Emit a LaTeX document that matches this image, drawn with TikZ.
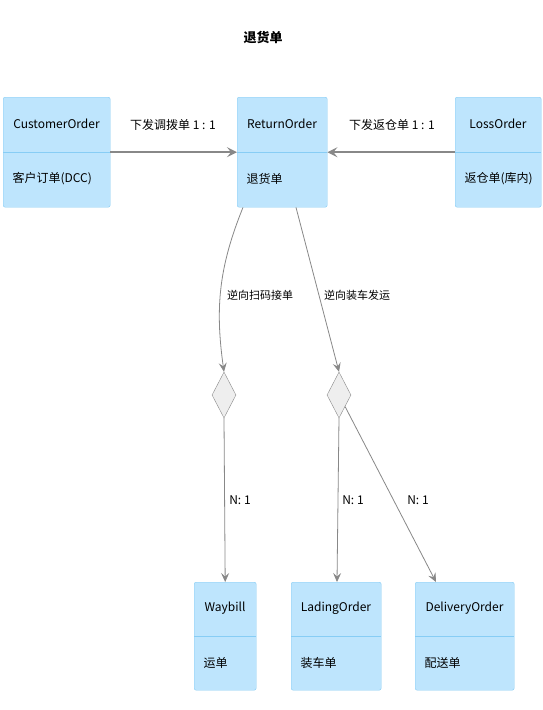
\documentclass[tikz,border=0pt]{standalone}
\usepackage{fontspec}
\setmainfont{Noto Sans CJK SC}
\usetikzlibrary{shapes.geometric,arrows.meta}
\definecolor{boxfill}{RGB}{190,229,253}
\definecolor{boxline}{RGB}{135,205,245}
\definecolor{linkgray}{RGB}{136,136,136}
\definecolor{gatefill}{RGB}{238,238,238}
\begin{document}
\begin{tikzpicture}[x=1pt,y=-1pt,
    cls/.style={draw=boxline,fill=boxfill,rounded corners=2pt,minimum height=110pt,inner sep=0,anchor=north west},
    gate/.style={diamond,draw=linkgray,fill=gatefill,minimum width=24pt,minimum height=46pt,inner sep=0},
    ttl/.style={font=\fontsize{12}{14}\selectfont},
    sub/.style={anchor=west,font=\fontsize{12}{14}\selectfont},
    lbl/.style={font=\fontsize{12}{14}\selectfont},
    biglink/.style={draw=linkgray,line width=1.6pt,-{Stealth[length=10pt,width=10pt,inset=4pt]}},
    link/.style={draw=linkgray,line width=0.8pt,-{Stealth[length=9pt,width=8pt,inset=3.5pt]}}]
        \useasboundingbox[fill=white] (0,0) rectangle (542,710);
        \node[font=\fontsize{13}{15}\selectfont\bfseries] (title) at (263,38) {退货单};
        % upper row
        \node[cls,minimum width=107pt] (cust) at (3,97) {};
        \draw[boxline] (cust.west) -- (cust.east);
        \node[ttl] (custT) at (56.5,124) {CustomerOrder};
        \node[sub] (custS) at (9,179) {客户订单(DCC)};
        \node[cls,minimum width=90pt] (ret) at (237,97) {};
        \draw[boxline] (ret.west) -- (ret.east);
        \node[ttl] (retT) at (282,124) {ReturnOrder};
        \node[sub] (retS) at (243,179) {退货单};
        \node[cls,minimum width=86pt] (loss) at (455,97) {};
        \draw[boxline] (loss.west) -- (loss.east);
        \node[ttl] (lossT) at (498,124) {LossOrder};
        \node[sub] (lossS) at (461,179) {返仓单(库内)};
        \draw[biglink] (cust.east) -- (ret.west);
        \node[lbl] (l1) at (173,125) {下发调拨单 1 : 1};
        \draw[biglink] (loss.west) -- (ret.east);
        \node[lbl] (l2) at (392,125) {下发返仓单 1 : 1};
        % gates
        \node[gate] (g1) at (224,395) {};
        \node[gate] (g2) at (339,395) {};
        \draw[link] ([xshift=6pt]ret.south west) to[out=-112,in=98] (g1.north);
        \node[lbl,font=\fontsize{11}{13}\selectfont] (l3) at (260,295) {逆向扫码接单};
        \draw[link] ([xshift=59pt]ret.south west) -- (g2.north);
        \node[lbl,font=\fontsize{11}{13}\selectfont] (l4) at (357,295) {逆向装车发运};
        % lower row
        \node[cls,minimum width=62pt,minimum height=108pt] (way) at (194,582) {};
        \draw[boxline] (way.west) -- (way.east);
        \node[ttl] (wayT) at (225,608) {Waybill};
        \node[sub] (wayS) at (200,663) {运单};
        \node[cls,minimum width=90pt,minimum height=108pt] (lad) at (291,582) {};
        \draw[boxline] (lad.west) -- (lad.east);
        \node[ttl] (ladT) at (336,608) {LadingOrder};
        \node[sub] (ladS) at (297,663) {装车单};
        \node[cls,minimum width=99pt,minimum height=108pt] (dlv) at (415,582) {};
        \draw[boxline] (dlv.west) -- (dlv.east);
        \node[ttl] (dlvT) at (464.5,608) {DeliveryOrder};
        \node[sub] (dlvS) at (421,663) {配送单};
        \draw[link] (g1.south) -- (way.north);
        \node[lbl] (n1) at (240,500) {N: 1};
        \draw[link] (g2.south) -- ([xshift=46pt]lad.north west);
        \node[lbl] (n2) at (353,500) {N: 1};
        \draw[link] (g2.south east) -- ([xshift=21pt]dlv.north west);
        \node[lbl] (n3) at (418,500) {N: 1};
\end{tikzpicture}
\end{document}
